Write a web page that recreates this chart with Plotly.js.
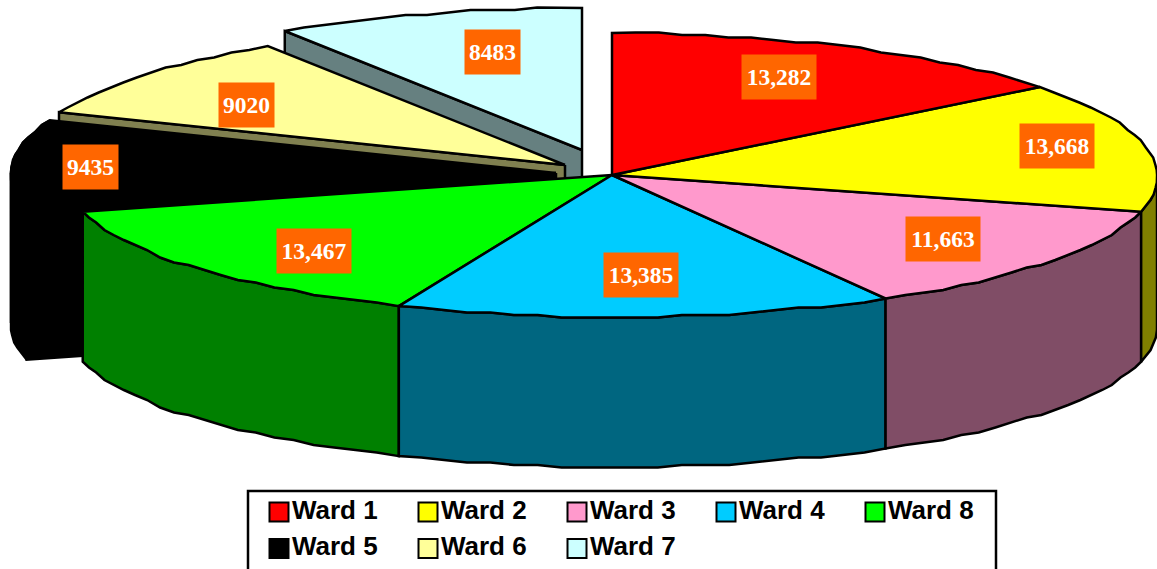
<!DOCTYPE html>
<html><head><meta charset="utf-8">
<script src="https://cdn.plot.ly/plotly-3.0.1.min.js"></script>
<style>html,body{margin:0;padding:0;background:#fff;overflow:hidden}</style></head>
<body><div id="chart" style="width:1157px;height:569px"></div>
<script>
// Data
const wards = ['Ward 1','Ward 2','Ward 3','Ward 4','Ward 8','Ward 5','Ward 6','Ward 7'];
const values = [13282,13668,11663,13385,13467,9435,9020,8483];
const valueLabels = ['13,282','13,668','11,663','13,385','13,467','9435','9020','8483'];
const topColors = ['#FF0000','#FFFF00','#FF99CC','#00CCFF','#00FF00','#000000','#FFFF99','#CCFFFF'];
const sideColors = ['#800000','#808000','#804D66','#006680','#008000','#000000','#808050','#668080'];
// Pie projection
const cx=612, cy=175, rx=545, ry=142, depth=150, nearGain=0.02, arcStep=2.5, edgeGrid=2.5;
const explodeX = [0,0,0,0,0,-56,-47,-30];
const explodeY = [0,0,0,0,0,-2,-10,-25];
const labelRx=356, labelRy=92.3;
const labelNudgeX = [11.6,96,49,7,-30.5,-110,-43,12];
const labelNudgeY = [-14.5,-10,7.5,7.4,15.2,0,-1,-10];
// Legend grid
const legendCols=5, legendX0=279, legendDX=149, legendY0=512, legendDY=36.5;
const total = values.reduce((a,b)=>a+b,0);
const starts=[]; let acc=0;
values.forEach(v=>{starts.push(acc); acc+=v/total*360;});
const rad=d=>d*Math.PI/180;
const px=(i,t)=>cx+explodeX[i]+rx*Math.sin(rad(t))*(1+nearGain*Math.max(0,-Math.cos(rad(t))));
const py=(i,t)=>cy+explodeY[i]-ry*Math.cos(rad(t));
function arc(i,a,b){const n=Math.max(2,Math.ceil((b-a)/arcStep));const X=[],Y=[];
  for(let k=0;k<=n;k++){const t=a+(b-a)*k/n;const inner=k>0&&k<n;
    X.push(px(i,t));Y.push(inner?Math.round(py(i,t)/edgeGrid)*edgeGrid:py(i,t));}return [X,Y];}
const poly=(X,Y,fill,lw,color)=>({type:'scatter',mode:'lines',x:X.concat([X[0]]),y:Y.concat([Y[0]]),fill:'toself',
  fillcolor:fill,line:{color:color||'#000',width:lw===undefined?2.5:lw},hoverinfo:'skip',showlegend:false});
function topFace(i){const e=starts[i]+values[i]/total*360;const [X,Y]=arc(i,starts[i],e);
  return poly([cx+explodeX[i]].concat(X),[cy+explodeY[i]].concat(Y),topColors[i]);}
function rim(i,a,b){const [X,Y]=arc(i,a,b);
  return poly(X.concat(X.slice().reverse()),Y.concat(Y.slice().reverse().map(v=>v+depth)),sideColors[i]);}
function radial(i,t){const ax=cx+explodeX[i],ay=cy+explodeY[i],ox=px(i,t),oy=py(i,t);
  return poly([ax,ox,ox,ax],[ay,oy,oy+depth,ay+depth],sideColors[i]);}
const sliceEnd=i=>starts[i]+values[i]/total*360;
const traces=[
  radial(7,starts[7]),topFace(7),
  radial(6,starts[6]),topFace(6),
  rim(5,270,sliceEnd(5)),rim(5,starts[5],270),radial(5,starts[5]),topFace(5),
  rim(4,starts[4],sliceEnd(4)),topFace(4),
  rim(3,starts[3],sliceEnd(3)),topFace(3),
  rim(2,starts[2],sliceEnd(2)),topFace(2),
  rim(1,90,sliceEnd(1)),topFace(1),topFace(0)
];
wards.forEach((w,i)=>traces.push({type:'scatter',mode:'markers+text',
  x:[legendX0+legendDX*(i%legendCols)],y:[legendY0+legendDY*Math.floor(i/legendCols)],
  text:[w],textposition:'middle right',name:w,showlegend:false,hoverinfo:'skip',
  textfont:{family:'Liberation Sans',size:26,color:'#000',weight:700},
  marker:{symbol:'square',size:19,color:topColors[i],line:{color:'#000',width:2}}}));
const annotations=wards.map((w,i)=>{const m=starts[i]+values[i]/total*180;
  return {x:cx+explodeX[i]+labelRx*Math.sin(rad(m))+labelNudgeX[i],y:cy+explodeY[i]-labelRy*Math.cos(rad(m))+labelNudgeY[i],
  xref:'x',yref:'y',text:valueLabels[i],showarrow:false,xanchor:'center',yanchor:'middle',
  width:valueLabels[i].length>4?74:55,height:44,bgcolor:'#FF6600',borderpad:0,
  font:{family:'Liberation Serif',size:23.5,color:'#fff',weight:700}};});
const layout={width:1157,height:569,margin:{l:0,r:0,t:0,b:0},paper_bgcolor:'#fff',plot_bgcolor:'#fff',showlegend:false,
  xaxis:{range:[0,1157],visible:false,fixedrange:true},
  yaxis:{range:[569,0],visible:false,fixedrange:true},
  annotations,
  shapes:[{type:'rect',xref:'x',yref:'y',x0:248,x1:996,y0:491,y1:620,line:{color:'#000',width:2.5},fillcolor:'#fff',layer:'below'}]};
Plotly.newPlot('chart',traces,layout,{displayModeBar:false,staticPlot:true});
</script></body></html>
